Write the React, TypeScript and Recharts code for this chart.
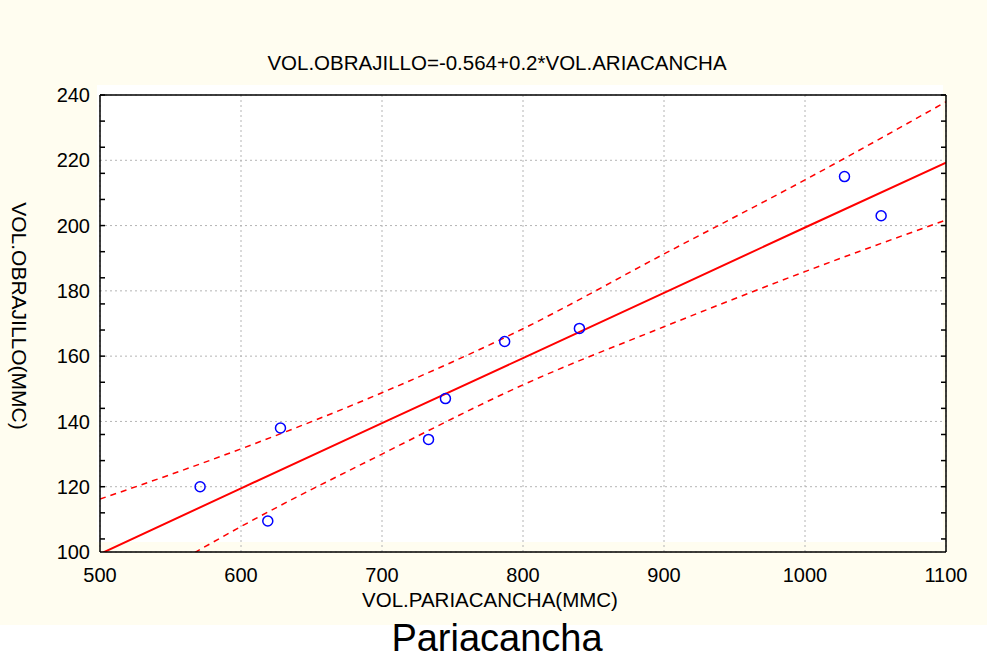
import {
  CartesianGrid,
  ComposedChart,
  Line,
  Scatter,
  XAxis,
  YAxis,
} from "recharts";

// observed pairs (Pariacancha vs Obrajillo)
const xValues = [571, 619, 628, 733, 745, 787, 840, 1028, 1054];
const yValues = [120, 109.5, 138, 134.5, 147, 164.5, 168.5, 215, 203];

// fitted line and 95% bands, read at the vertical grid lines
const bandX = [500, 600, 700, 800, 900, 1000, 1100];
const fitValues = [99.4, 119.5, 139.5, 159.4, 179.4, 199.4, 219.3];
const upperValues = [116.2, 131.6, 148.8, 168.4, 191.3, 214.0, 237.9];
const lowerValues = [82.6, 107.8, 130.0, 151.2, 169.0, 185.9, 201.7];

const xTicks = [500, 600, 700, 800, 900, 1000, 1100];
const yTicks = [100, 120, 140, 160, 180, 200, 220, 240];
const xMinorTicks = Array.from({ length: 31 }, (_, i) => 500 + i * 20);
const yMinorTicks = Array.from({ length: 36 }, (_, i) => 100 + i * 4);

const titleText = "VOL.OBRAJILLO=-0.564+0.2*VOL.ARIACANCHA";
const xLabel = "VOL.PARIACANCHA(MMC)";
const yLabel = "VOL.OBRAJILLO(MMC)";
const caption = "Pariacancha";

const points = xValues.map((x, i) => ({ x, y: yValues[i] }));
const bandRows = bandX.map((x, i) => ({
  x,
  fit: fitValues[i],
  upper: upperValues[i],
  lower: lowerValues[i],
}));

const FONT = '"Liberation Sans", Arial, sans-serif';
const CREAM = "#fffdf0";
const tickFont = { fontSize: 20, fill: "#000", fontFamily: FONT };
const frame = { stroke: "#000", strokeWidth: 1.5 };
const noLabel = () => <g />;

function Ring(props: any) {
  return (
    <circle cx={props.cx} cy={props.cy} r={5} fill="none" stroke="#0000ff" strokeWidth={1.5} />
  );
}

function Text({ x, y, size, children, rotate }: any) {
  return (
    <div
      style={{
        position: "absolute",
        left: x,
        top: y,
        fontSize: size,
        whiteSpace: "nowrap",
        lineHeight: 1,
        transform: `translate(-50%, -50%)${rotate ? ` rotate(${rotate}deg)` : ""}`,
      }}
    >
      {children}
    </div>
  );
}

export default function App() {
  return (
    <div
      style={{
        position: "absolute",
        left: 0,
        top: 0,
        width: 987,
        height: 660,
        background: "#fff",
        fontFamily: FONT,
        color: "#000",
      }}
    >
      <div style={{ position: "absolute", left: 0, top: 0, width: 987, height: 625, background: CREAM }} />
      <div style={{ position: "absolute", left: 97, top: 85, width: 846, height: 457, background: "#fff" }} />

      <div style={{ position: "absolute", left: 0, top: 0 }}>
        <ComposedChart
          width={987}
          height={660}
          data={bandRows}
          margin={{ top: 95, right: 41, left: 0, bottom: 48 }}
        >
          <XAxis
            xAxisId="x"
            dataKey="x"
            type="number"
            domain={[500, 1100]}
            ticks={xTicks}
            allowDataOverflow
            height={60}
            axisLine={false}
            tickLine={false}
            tickSize={6}
            tickMargin={10}
            tick={tickFont}
          />
          <XAxis
            xAxisId="xb"
            type="number"
            domain={[500, 1100]}
            ticks={xMinorTicks}
            allowDataOverflow
            mirror
            height={6}
            axisLine={frame}
            tickLine={frame}
            tickSize={5}
            tick={noLabel}
          />
          <XAxis
            xAxisId="xt"
            orientation="top"
            type="number"
            domain={[500, 1100]}
            ticks={xMinorTicks}
            allowDataOverflow
            mirror
            height={6}
            axisLine={frame}
            tickLine={frame}
            tickSize={5}
            tick={noLabel}
          />
          <YAxis
            yAxisId="y"
            type="number"
            domain={[100, 240]}
            ticks={yTicks}
            allowDataOverflow
            width={100}
            axisLine={false}
            tickLine={false}
            tickSize={5}
            tickMargin={5}
            tick={tickFont}
          />
          <YAxis
            yAxisId="yl"
            type="number"
            domain={[100, 240]}
            ticks={yMinorTicks}
            allowDataOverflow
            mirror
            width={6}
            axisLine={frame}
            tickLine={frame}
            tickSize={5}
            tick={noLabel}
          />
          <YAxis
            yAxisId="yr"
            orientation="right"
            type="number"
            domain={[100, 240]}
            ticks={yMinorTicks}
            allowDataOverflow
            mirror
            width={6}
            axisLine={frame}
            tickLine={frame}
            tickSize={5}
            tick={noLabel}
          />
          <CartesianGrid xAxisId="x" yAxisId="y" stroke="#b4b4b4" strokeDasharray="2 3" />
          <Line
            xAxisId="x"
            yAxisId="y"
            dataKey="fit"
            type="linear"
            stroke="#ff0000"
            strokeWidth={2}
            dot={false}
            activeDot={false}
            isAnimationActive={false}
          />
          <Line
            xAxisId="x"
            yAxisId="y"
            dataKey="upper"
            type="monotone"
            stroke="#ff0000"
            strokeWidth={1.5}
            strokeDasharray="6 5"
            dot={false}
            activeDot={false}
            isAnimationActive={false}
          />
          <Line
            xAxisId="x"
            yAxisId="y"
            dataKey="lower"
            type="monotone"
            stroke="#ff0000"
            strokeWidth={1.5}
            strokeDasharray="6 5"
            dot={false}
            activeDot={false}
            isAnimationActive={false}
          />
          <Scatter
            xAxisId="x"
            yAxisId="y"
            data={points}
            dataKey="y"
            shape={<Ring />}
            isAnimationActive={false}
          />
        </ComposedChart>
      </div>

      <Text x={497} y={63} size={20.5}>{titleText}</Text>
      <Text x={490} y={600} size={20.5}>{xLabel}</Text>
      <Text x={19} y={316} size={21} rotate={90}>{yLabel}</Text>
      <Text x={497} y={638} size={38}>{caption}</Text>
    </div>
  );
}
